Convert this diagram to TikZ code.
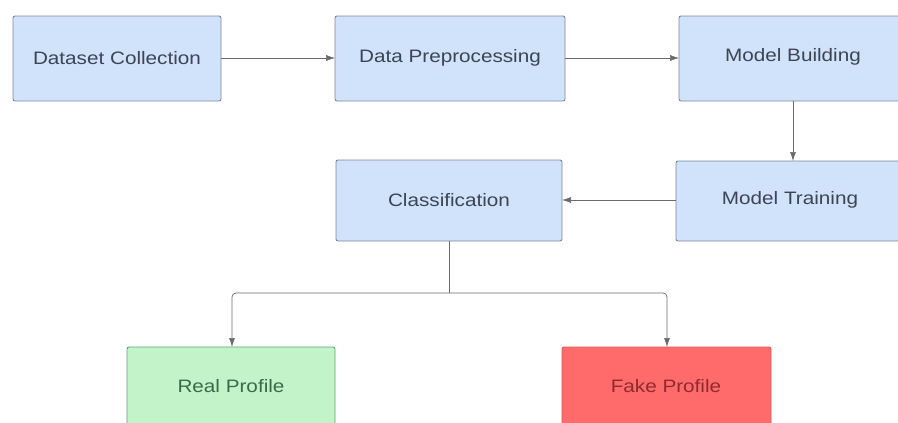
\documentclass[tikz,border=0pt]{standalone}
\usepackage{fontspec}
\setmainfont{Liberation Sans}
\usetikzlibrary{arrows.meta}
\definecolor{boxblue}{HTML}{D1E2FB}
\definecolor{boxgreen}{HTML}{C2F3C9}
\definecolor{boxred}{HTML}{FF6B6B}
\definecolor{edgegray}{HTML}{7C8699}
\definecolor{txt}{HTML}{3D4454}
\definecolor{greentxt}{HTML}{3A6B48}
\definecolor{redtxt}{HTML}{8E2B2E}
\definecolor{wire}{HTML}{6A6A6A}
\tikzset{
  stage/.style={draw=edgegray, line width=0.9pt, rounded corners=2pt},
  caption/.style={text=txt, font=\fontsize{18}{20}\selectfont},
  flow/.style={draw=wire, line width=0.7pt, -{Latex[length=9pt,width=6pt]}},
}
\newcommand{\wide}[1]{\scalebox{1.15}[1]{#1}}
\begin{document}
\begin{tikzpicture}[x=1pt, y=-1pt]
  \useasboundingbox (0,0) rectangle (898,423);
  \begin{scope}
  \clip (0,0) rectangle (898,423);
  % process boxes
  \path[stage, fill=boxblue] (13,16) rectangle (221,101);
  \node[caption] (dc) at (117,58) {\wide{Dataset Collection}};
  \path[stage, fill=boxblue] (335,16) rectangle (565,101);
  \node[caption] (dp) at (450,58) {\wide{Data Preprocessing}};
  \path[stage, fill=boxblue] (679,16) rectangle (906,101);
  \node[caption] (mb) at (793,57) {\wide{Model Building}};
  \path[stage, fill=boxblue] (676,161) rectangle (904,241);
  \node[caption] (mt) at (790,200) {\wide{Model Training}};
  \path[stage, fill=boxblue] (336,160) rectangle (562,241);
  \node[caption] (cl) at (449,200) {\wide{Classification}};
  % outcome boxes
  \path[stage, fill=boxgreen, draw=edgegray!80!green] (127,347) rectangle (335,430);
  \node[caption, text=greentxt] (rp) at (231,386) {\wide{Real Profile}};
  \path[stage, fill=boxred, draw=boxred!85!black] (562,347) rectangle (771,430);
  \node[caption, text=redtxt] (fp) at (666,386) {\wide{Fake Profile}};
  % points where the connectors meet the box borders
  \coordinate (dcE) at (221,58);
  \coordinate (dpW) at (335,58);
  \coordinate (dpE) at (565,58);
  \coordinate (mbW) at (679,58);
  \coordinate (mbS) at (793,101);
  \coordinate (mtN) at (793,161);
  \coordinate (mtW) at (676,200);
  \coordinate (clE) at (562,200);
  \coordinate (clS) at (449,241);
  \coordinate (split) at (449,293);
  \coordinate (rpN) at (232,347);
  \coordinate (fpN) at (667,347);
  % connectors
  \draw[flow, line width=0.5pt] (dcE) -- (dpW);
  \draw[flow, line width=0.5pt] (dpE) -- (mbW);
  \draw[flow] (mbS) -- (mtN);
  \draw[flow] (mtW) -- (clE);
  \draw[draw=wire, line width=0.7pt] (clS) -- (split);
  \draw[flow, rounded corners=4pt] (split) -| (rpN);
  \draw[flow, rounded corners=4pt] (split) -| (fpN);
  \end{scope}
\end{tikzpicture}
\end{document}
